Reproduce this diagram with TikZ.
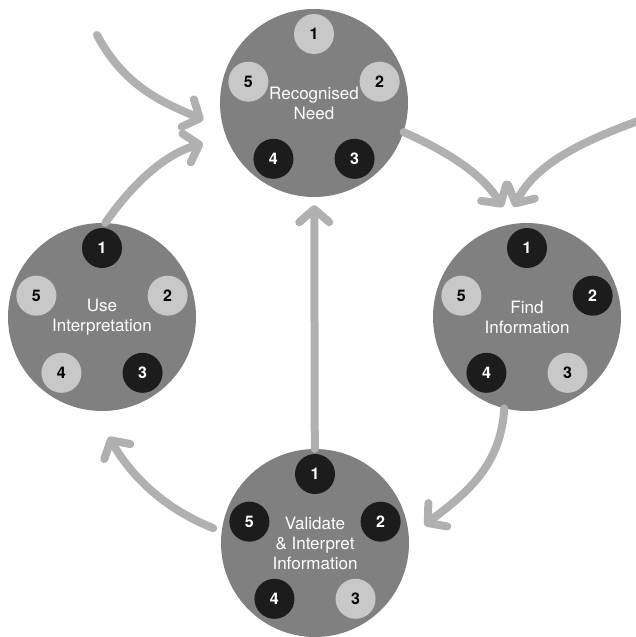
\documentclass[tikz,border=0pt]{standalone}
\usepackage{fontspec}
\setmainfont{TeX Gyre Heros}
\usetikzlibrary{arrows.meta}
\definecolor{stagegray}{HTML}{808080}
\definecolor{dotlite}{HTML}{C8C8C8}
\definecolor{dotdark}{HTML}{1C1C1C}
\definecolor{flowgray}{HTML}{B0B0B0}

\begin{document}
\begin{tikzpicture}[x=1pt, y=-1pt,
		stage/.style={circle, fill=stagegray, minimum size=188pt, inner sep=0pt, text=white, align=center, font=\fontsize{17}{20}\selectfont},
		lite/.style={circle, fill=dotlite, minimum size=40pt, inner sep=0pt, font=\fontsize{16}{16}\selectfont\bfseries},
		dark/.style={lite, fill=dotdark, text=white},
		flow/.style={draw=flowgray, line width=8pt, line cap=round, -{Straight Barb[length=13pt, width=30pt, round]}}]
			\useasboundingbox (0,0) rectangle (635,637);

			% Nodes
			\node (need) [stage] at (314,103) {Recognised\\Need};
			\node (need1) [lite] at ([shift={(90:69pt)}]need) {1};
			\node (need2) [lite] at ([shift={(18:69pt)}]need) {2};
			\node (need3) [dark] at ([shift={(-54:69pt)}]need) {3};
			\node (need4) [dark] at ([shift={(-126:69pt)}]need) {4};
			\node (need5) [lite] at ([shift={(162:69pt)}]need) {5};

			\node (use) [stage] at (102,317) {Use\\Interpretation};
			\node (use1) [dark] at ([shift={(90:69pt)}]use) {1};
			\node (use2) [lite] at ([shift={(18:69pt)}]use) {2};
			\node (use3) [dark] at ([shift={(-54:69pt)}]use) {3};
			\node (use4) [lite] at ([shift={(-126:69pt)}]use) {4};
			\node (use5) [lite] at ([shift={(162:69pt)}]use) {5};

			\node (find) [stage] at (527,317) {Find\\Information};
			\node (find1) [dark] at ([shift={(90:69pt)}]find) {1};
			\node (find2) [dark] at ([shift={(18:69pt)}]find) {2};
			\node (find3) [lite] at ([shift={(-54:69pt)}]find) {3};
			\node (find4) [dark] at ([shift={(-126:69pt)}]find) {4};
			\node (find5) [lite] at ([shift={(162:69pt)}]find) {5};

			\node (valid) [stage] at (315,543) {Validate\\\& Interpret\\Information};
			\node (valid1) [dark] at ([shift={(90:69pt)}]valid) {1};
			\node (valid2) [dark] at ([shift={(18:69pt)}]valid) {2};
			\node (valid3) [lite] at ([shift={(-54:69pt)}]valid) {3};
			\node (valid4) [dark] at ([shift={(-126:69pt)}]valid) {4};
			\node (valid5) [dark] at ([shift={(162:69pt)}]valid) {5};

			\coordinate (in1) at (97,35);
			\coordinate (in2) at (638,121);

			% Edges
			\draw [flow, shorten >=22pt] (in1) to[out=-62, in=156] (need.196);
			\draw [flow, shorten >=24pt] (use.88) to[out=55, in=196] (need.201);
			\draw [flow, shorten >=20pt] (need.-18) to[out=-24, in=123] (find.98);
			\draw [flow, shorten >=21pt] (in2) to[out=200, in=63] (find.104);
			\draw [flow, shorten >=8pt] (valid) -- (need);
			\draw [flow, shorten >=20pt] (find.256) to[out=-93, in=39] (valid.3);
			\draw [flow, shorten <=9pt, shorten >=30pt] (valid.173) to[out=158, in=-60] (use.265);

		\end{tikzpicture}
\end{document}
